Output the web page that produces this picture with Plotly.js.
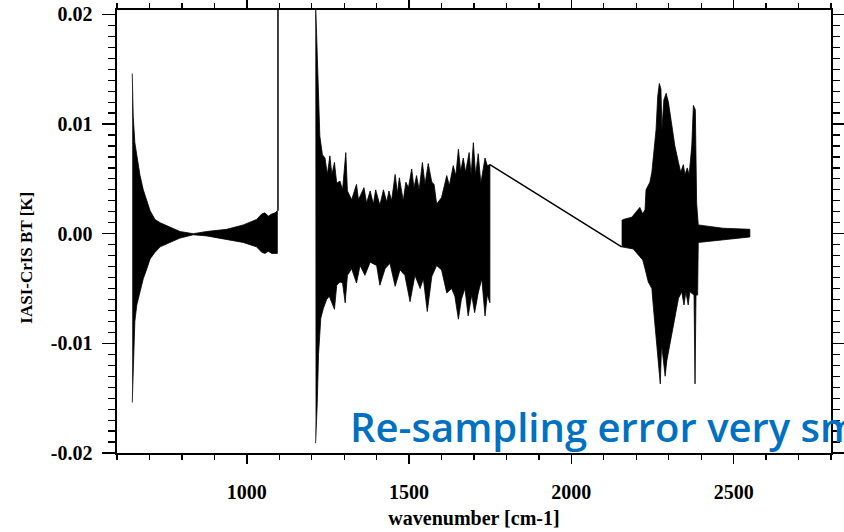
<!DOCTYPE html>
<html>
<head>
<meta charset="utf-8">
<script src="https://cdn.plot.ly/plotly-3.0.1.min.js"></script>
<style>
html,body{margin:0;padding:0;background:#fff;overflow:hidden;}
#chart{width:844px;height:532px;}
</style>
</head>
<body>
<div id="chart"></div>
<script>
// ---- Segment 1 (long-wave band) envelope ----
const wnUp1 = [647,650,655,661,666,671,681,692,702,717,733,763,794,835,876,938,989,1030,1046,1056,1066,1077,1087,1094];
const btUp1 = [0.0146,0.0107,0.0083,0.0072,0.0062,0.0053,0.0040,0.0030,0.0021,0.0013,0.0010,0.0006,0.0002,0.0000,0.0002,0.0004,0.0008,0.0013,0.0018,0.0019,0.0016,0.0018,0.0019,0.0021];
const wnLo1 = [647,652,655,661,671,681,692,702,717,733,763,794,835,876,938,989,1030,1046,1056,1066,1077,1087,1094];
const btLo1 = [-0.0154,-0.0110,-0.0080,-0.0065,-0.0053,-0.0041,-0.0032,-0.0023,-0.0017,-0.0012,-0.0008,-0.0004,-0.0001,-0.0002,-0.0005,-0.0008,-0.0012,-0.0017,-0.0018,-0.0016,-0.0018,-0.0018,-0.0018];

// ---- isolated spike at the band edge ----
const wnSpikeA = [1096, 1096];
const btSpikeA = [0.0021, 0.0250];

// ---- Segment 2 (mid-wave band) envelope ----
const wnUp2 = [1211,1215,1218,1221,1225,1233,1241,1248,1256,1262,1270,1277,1287,1295,1305,1310,1323,1338,1344,1361,1369,1380,1390,1397,1410,1421,1431,1438,1446,1457,1464,1470,1482,1490,1498,1508,1515,1523,1531,1541,1549,1559,1570,1577,1585,1600,1616,1624,1636,1644,1652,1659,1667,1674,1685,1691,1698,1705,1713,1721,1734,1741,1749];
const btUp2 = [0.0220,0.0182,0.0149,0.0119,0.0089,0.0072,0.0069,0.0054,0.0071,0.0054,0.0065,0.0046,0.0048,0.0040,0.0074,0.0039,0.0031,0.0045,0.0031,0.0042,0.0028,0.0039,0.0027,0.0040,0.0026,0.0040,0.0029,0.0039,0.0030,0.0054,0.0037,0.0051,0.0030,0.0047,0.0042,0.0059,0.0042,0.0053,0.0040,0.0065,0.0045,0.0064,0.0047,0.0045,0.0027,0.0033,0.0053,0.0044,0.0062,0.0053,0.0077,0.0057,0.0069,0.0056,0.0074,0.0053,0.0083,0.0053,0.0073,0.0046,0.0069,0.0062,0.0063];
const wnLo2 = [1212,1217,1221,1228,1236,1246,1254,1262,1270,1277,1287,1295,1303,1310,1323,1338,1349,1364,1380,1400,1410,1426,1441,1457,1472,1487,1503,1518,1534,1544,1556,1570,1585,1600,1616,1631,1641,1652,1661,1672,1682,1693,1702,1713,1724,1734,1741,1749];
const btLo2 = [-0.0191,-0.0155,-0.0110,-0.0077,-0.0068,-0.0060,-0.0057,-0.0063,-0.0069,-0.0047,-0.0044,-0.0045,-0.0063,-0.0038,-0.0032,-0.0045,-0.0029,-0.0038,-0.0026,-0.0029,-0.0047,-0.0032,-0.0027,-0.0048,-0.0033,-0.0038,-0.0062,-0.0038,-0.0050,-0.0041,-0.0071,-0.0039,-0.0029,-0.0033,-0.0054,-0.0050,-0.0057,-0.0078,-0.0060,-0.0050,-0.0075,-0.0056,-0.0072,-0.0054,-0.0041,-0.0075,-0.0056,-0.0063];

// ---- straight link across the gap ----
const wnLink = [1749, 2155];
const btLink = [0.0063, -0.0012];

// ---- Segment 3 (short-wave band) envelope ----
const wnUp3 = [2155,2160,2186,2201,2211,2220,2227,2230,2242,2248,2255,2261,2266,2271,2276,2279,2285,2292,2299,2309,2319,2330,2337,2345,2350,2357,2363,2371,2376,2382,2386,2391,2467,2550];
const btUp3 = [0.0012,0.0013,0.0015,0.0021,0.0024,0.0018,0.0022,0.0040,0.0047,0.0056,0.0077,0.0095,0.0125,0.0137,0.0132,0.0095,0.0122,0.0128,0.0120,0.0101,0.0080,0.0065,0.0056,0.0063,0.0054,0.0060,0.0054,0.0080,0.0117,0.0113,0.0028,0.0008,0.0005,0.0004];
const wnLo3 = [2155,2191,2211,2220,2227,2237,2248,2253,2258,2265,2271,2274,2278,2283,2289,2294,2304,2319,2330,2340,2347,2353,2360,2365,2378,2381,2384,2389,2391,2550];
const btLo3 = [-0.0012,-0.0014,-0.0021,-0.0024,-0.0032,-0.0044,-0.0050,-0.0068,-0.0086,-0.0110,-0.0128,-0.0137,-0.0101,-0.0116,-0.0130,-0.0116,-0.0098,-0.0077,-0.0059,-0.0053,-0.0065,-0.0053,-0.0065,-0.0053,-0.0056,-0.0137,-0.0056,-0.0056,-0.0008,-0.0003];

// ---- axis ticks / labels ----
const yTickVals = [-0.02, -0.01, 0.00, 0.01, 0.02];
const yTickText = ['-0.02', '-0.01', '0.00', '0.01', '0.02'];
const xTickVals = [1000, 1500, 2000, 2500];
const xTickText = ['1000', '1500', '2000', '2500'];
const xTitle = 'wavenumber [cm-1]';
const yTitle = 'IASI-CrIS BT [K]';
const noteText = 'Re-sampling error very small';

function band(wu, bu, wl, bl) {
  return {
    x: wu.concat(wl.slice().reverse()),
    y: bu.concat(bl.slice().reverse()),
    type: 'scatter', mode: 'lines', fill: 'toself',
    fillcolor: '#000', line: {color: '#000', width: 0.8},
    hoverinfo: 'skip', showlegend: false
  };
}
function line(wx, by, w) {
  return {x: wx, y: by, type: 'scatter', mode: 'lines',
    line: {color: '#000', width: w}, hoverinfo: 'skip', showlegend: false};
}

const traces = [
  band(wnUp1, btUp1, wnLo1, btLo1),
  line(wnSpikeA, btSpikeA, 1.5),
  band(wnUp2, btUp2, wnLo2, btLo2),
  line(wnLink, btLink, 1.5),
  band(wnUp3, btUp3, wnLo3, btLo3)
];

const tickFont = {family: '"Liberation Serif", "Times New Roman", serif', size: 20, color: '#000', weight: 'bold'};

const layout = {
  width: 844, height: 532,
  margin: {l: 117, r: 13, t: 10, b: 79, pad: 0},
  paper_bgcolor: '#fff', plot_bgcolor: '#fff',
  showlegend: false,
  xaxis: {
    range: [600, 2800], tickmode: 'array', tickvals: xTickVals, ticktext: xTickText,
    showgrid: false, zeroline: false, showline: true, linecolor: '#000', linewidth: 1.6,
    mirror: 'allticks', ticks: 'outside', ticklen: 9, tickwidth: 1.4, tickcolor: '#000',
    minor: {tickmode: 'linear', tick0: 0, dtick: 100, ticks: 'outside', ticklen: 5, tickwidth: 1.2, tickcolor: '#000', showgrid: false},
    tickfont: tickFont, ticklabelstandoff: 11,
    title: {text: '<b>' + xTitle + '</b>', font: {family: tickFont.family, size: 20, color: '#000'}, standoff: 9},
    fixedrange: true
  },
  yaxis: {
    range: [-0.02, 0.0204], tickmode: 'array', tickvals: yTickVals, ticktext: yTickText,
    showgrid: false, zeroline: false, showline: true, linecolor: '#000', linewidth: 1.6,
    mirror: 'allticks', ticks: 'outside', ticklen: 13, tickwidth: 1.4, tickcolor: '#000',
    minor: {tickmode: 'linear', tick0: 0, dtick: 0.001, ticks: 'outside', ticklen: 7, tickwidth: 1.2, tickcolor: '#000', showgrid: false},
    tickfont: tickFont, ticklabelstandoff: 6,
    fixedrange: true
  },
  annotations: [
    {text: '<b>' + yTitle + '</b>', xref: 'paper', yref: 'paper',
     x: -0.128, y: 0.44, xanchor: 'center', yanchor: 'middle', textangle: -90,
     showarrow: false, font: {family: tickFont.family, size: 17, color: '#000'}},
    {text: noteText, xref: 'paper', yref: 'paper',
     x: 0.323, y: 0.06, xanchor: 'left', yanchor: 'middle',
     showarrow: false, font: {family: '"Open Sans", Lato, sans-serif', size: 40, color: '#0070C0', weight: 600}}
  ]
};

Plotly.newPlot('chart', traces, layout, {staticPlot: true, displayModeBar: false});
</script>
</body>
</html>
